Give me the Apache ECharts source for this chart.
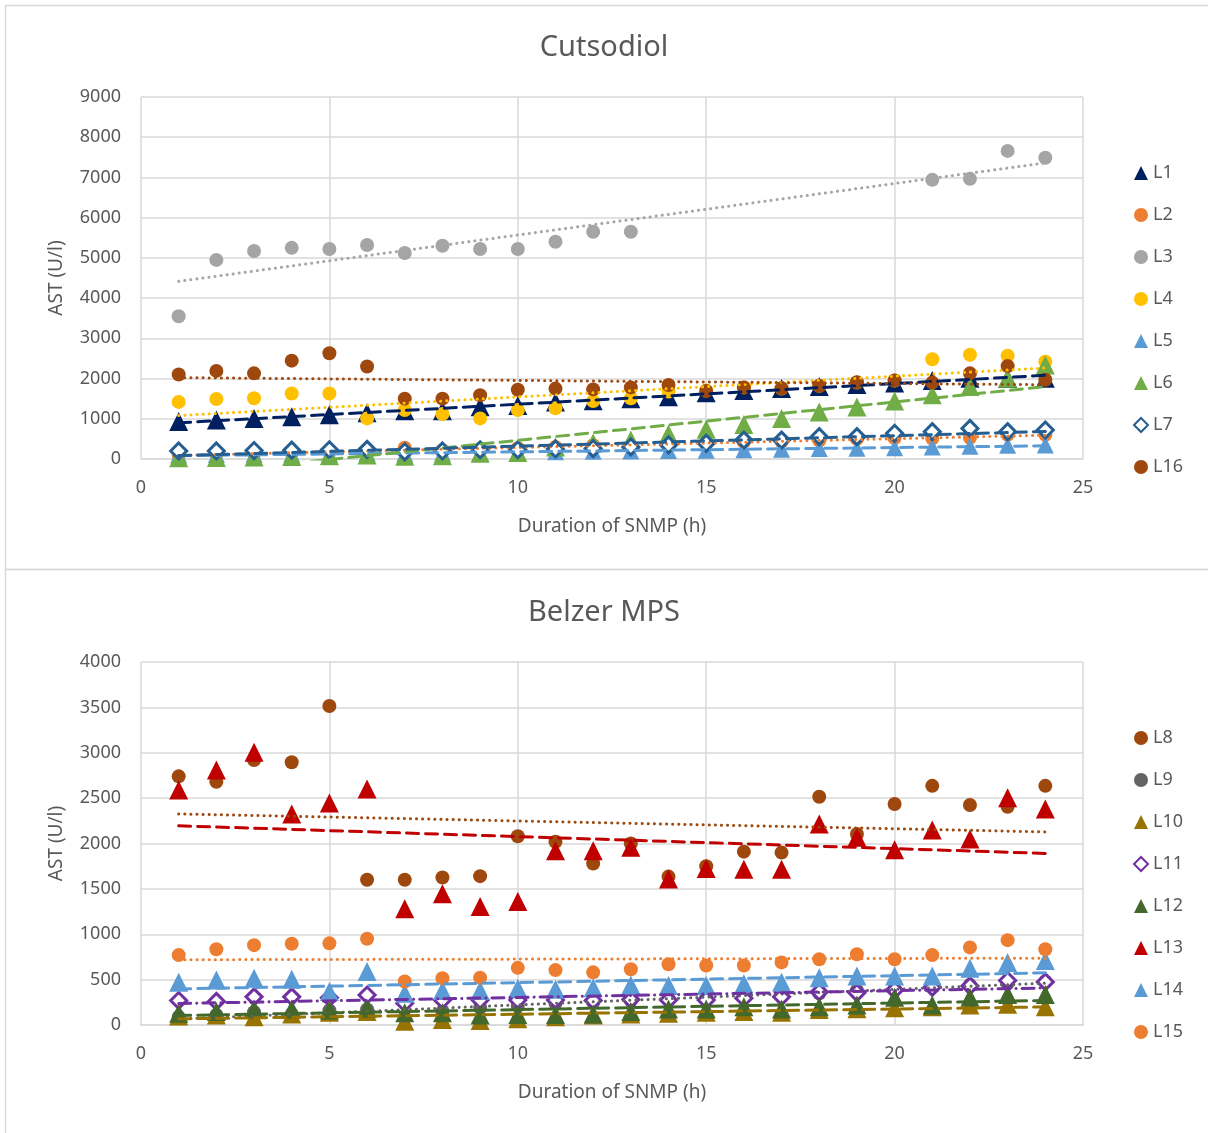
<!DOCTYPE html>
<html><head><meta charset="utf-8">
<script src="https://cdn.jsdelivr.net/npm/echarts@6/dist/echarts.min.js"></script>
<style>html,body{margin:0;padding:0;background:#fff}#c{width:1208px;height:1133px}</style>
</head><body><div id="c"></div>
<script>
// ---------- data ----------
const hours = [1,2,3,4,5,6,7,8,9,10,11,12,13,14,15,16,17,18,19,20,21,22,23,24];
const xTicks = [0,5,10,15,20,25];
const topTitle = 'Cutsodiol';
const bottomTitle = 'Belzer MPS';
const xName = 'Duration of SNMP (h)';
const yName = 'AST (U/l)';

// Cutsodiol
const L1  = [930,970,1010,1050,1100,1150,1200,1200,1300,1330,1420,1450,1500,1550,1650,1700,1750,1800,1850,1890,1950,2010,2000,2010];
const L2  = [100,110,130,150,180,200,280,220,250,270,300,340,330,360,380,420,430,460,500,520,510,530,600,600];
const L3  = [3550,4950,5170,5250,5220,5320,5120,5300,5220,5220,5400,5650,5650,null,null,null,null,null,null,null,6940,6965,7660,7490];
const L4  = [1420,1490,1510,1630,1630,1010,1220,1120,1010,1220,1260,1440,1510,1680,1700,1780,1750,1820,1900,1950,2480,2590,2570,2420];
const L5  = [100,110,120,120,130,150,130,140,160,170,180,190,200,210,220,230,240,260,270,280,300,320,340,350];
const L6  = [30,40,50,60,80,100,70,80,140,160,300,400,470,620,740,860,1010,1170,1290,1440,1600,1800,2010,2340];
const L7  = [200,200,210,220,230,240,180,200,230,230,250,260,300,350,390,470,470,555,555,640,680,760,680,720];
const L16 = [2100,2190,2130,2445,2630,2300,1500,1500,1585,1720,1750,1730,1780,1840,1690,1780,1760,1820,1910,1950,1900,2130,2310,1970];

// Belzer MPS
const L8  = [2740,2680,2920,2895,3515,1600,1600,1625,1640,2080,2020,1780,2000,1635,1750,1910,1900,2515,2105,2435,2635,2425,2405,2635];
const L9  = [90,110,140,120,160,170,80,150,190,210,240,250,270,290,300,310,320,350,380,400,420,440,460,480];
const L10 = [100,110,90,120,140,150,40,60,50,70,90,110,120,130,140,150,140,170,180,190,200,220,230,200];
const L11 = [270,260,310,310,300,330,240,275,275,275,275,270,280,275,275,295,310,365,355,385,415,430,490,475];
const L12 = [130,150,175,175,165,185,135,135,110,115,115,120,150,175,175,200,175,200,220,305,220,305,335,335];
const L13 = [2590,2810,3005,2325,2445,2600,1280,1445,1305,1360,1920,1920,1960,1610,1725,1715,1715,2215,2070,1930,2150,2050,2505,2380];
const L14 = [470,495,515,505,370,590,350,380,380,405,395,410,440,435,435,455,470,520,540,540,540,625,690,710];
const L15 = [770,835,880,895,900,950,480,515,520,630,605,580,615,670,655,655,690,725,780,725,770,855,935,835];

// ---------- helpers ----------
const FONT = 'Noto Sans';
const TXT = '#595959';
function pts(vals){ const a=[]; vals.forEach((v,i)=>{ if(v!==null) a.push([hours[i],v]); }); return a; }
function fit(vals){
  const p = pts(vals); const n=p.length;
  let sx=0,sy=0,sxx=0,sxy=0;
  p.forEach(([x,y])=>{sx+=x;sy+=y;sxx+=x*x;sxy+=x*y;});
  const b=(n*sxy-sx*sy)/(n*sxx-sx*sx), a=(sy-b*sx)/n;
  const x0=hours[0], x1=hours[hours.length-1];
  return [[x0,a+b*x0],[x1,a+b*x1]];
}
const DOT=[0.1,6], DASH=[12,7], DASHDOT=[12,6,0.1,6];
const series=[];
function add(name, vals, gi, color, symbol, size, trendType, hollow){
  series.push({
    name, type:'scatter', xAxisIndex:gi, yAxisIndex:gi, data:pts(vals),
    symbol, symbolSize:size, z:2,
    itemStyle: hollow ? {color:'#fff', borderColor:color, borderWidth:3, opacity:1} : {color, opacity:1},
    emphasis:{disabled:true}
  });
  series.push({
    name: name+' trend', type:'line', xAxisIndex:gi, yAxisIndex:gi, data:fit(vals),
    symbol:'none', z:5, silent:true,
    lineStyle:{color, width:3, type:trendType, cap:'round'}
  });
}
add('L1', L1, 0, '#002060', 'triangle', 19, DASH);
add('L2', L2, 0, '#ed7d31', 'circle', 14, DOT);
add('L3', L3, 0, '#a5a5a5', 'circle', 14, DOT);
add('L4', L4, 0, '#ffc000', 'circle', 14, DOT);
add('L5', L5, 0, '#5b9bd5', 'triangle', 17, DASH);
add('L6', L6, 0, '#70ad47', 'triangle', 19, DASH);
add('L7', L7, 0, '#255e91', 'diamond', 16, DASH, true);
add('L16', L16, 0, '#9e480e', 'circle', 14, DOT);

add('L8', L8, 1, '#9e480e', 'circle', 14, DOT);
add('L9', L9, 1, '#636363', 'circle', 14, DOT);
add('L10', L10, 1, '#997300', 'triangle', 19, DASH);
add('L11', L11, 1, '#7030a0', 'diamond', 16, DASHDOT, true);
add('L12', L12, 1, '#43682b', 'triangle', 19, DASH);
add('L13', L13, 1, '#c00000', 'triangle', 19, DASH);
add('L14', L14, 1, '#5b9bd5', 'triangle', 19, DASH);
add('L15', L15, 1, '#ed7d31', 'circle', 14, DOT);

function xAxis(gi){
  return {type:'value', gridIndex:gi, min:0, max:25, interval:5,
    name:xName, nameLocation:'middle', nameGap:58,
    nameTextStyle:{color:TXT, fontFamily:FONT, fontSize:19},
    axisLine:{show:true, lineStyle:{color:'#d9d9d9', width:1.5}},
    axisTick:{show:false},
    axisLabel:{color:TXT, fontFamily:FONT, fontSize:18, margin:20},
    splitLine:{show:true, lineStyle:{color:'#d9d9d9', width:1.5}}};
}
function yAxis(gi, max, interval){
  return {type:'value', gridIndex:gi, min:0, max, interval,
    name:yName, nameLocation:'middle', nameGap:75, nameRotate:90,
    nameTextStyle:{color:TXT, fontFamily:FONT, fontSize:19},
    axisLine:{show:false}, axisTick:{show:false},
    axisLabel:{color:TXT, fontFamily:FONT, fontSize:18, margin:20, formatter:(v)=>String(v)},
    splitLine:{show:true, lineStyle:{color:'#d9d9d9', width:1.5}}};
}
const legendBase = {orient:'vertical', left:1128, itemWidth:14, itemHeight:14, itemGap:24,
  textStyle:{color:TXT, fontFamily:FONT, fontSize:18}, selectedMode:false};

const option = {
  animation:false,
  backgroundColor:'#fff',
  title:[
    {text:topTitle, left:'center', top:28, textStyle:{color:TXT, fontFamily:FONT, fontSize:29, fontWeight:'normal'}},
    {text:bottomTitle, left:'center', top:593, textStyle:{color:TXT, fontFamily:FONT, fontSize:29, fontWeight:'normal'}}
  ],
  grid:[
    {left:141, width:942, top:97, height:362},
    {left:141, width:942, top:662, height:363}
  ],
  xAxis:[xAxis(0), xAxis(1)],
  yAxis:[yAxis(0, 9000, 1000), yAxis(1, 4000, 500)],
  legend:[
    Object.assign({}, legendBase, {top:159, data:['L1','L2','L3','L4','L5','L6','L7','L16']}),
    Object.assign({}, legendBase, {top:724, data:['L8','L9','L10','L11','L12','L13','L14','L15']})
  ],
  graphic:[
    {type:'rect', shape:{x:5.5,y:5.5,width:1210,height:564}, style:{fill:null, stroke:'#d9d9d9', lineWidth:1.5}, silent:true, z:-1},
    {type:'rect', shape:{x:5.5,y:569.5,width:1210,height:570}, style:{fill:null, stroke:'#d9d9d9', lineWidth:1.5}, silent:true, z:-1}
  ],
  series
};
const chart = echarts.init(document.getElementById('c'), null, {renderer:'canvas'});
chart.setOption(option);
</script>
</body></html>
